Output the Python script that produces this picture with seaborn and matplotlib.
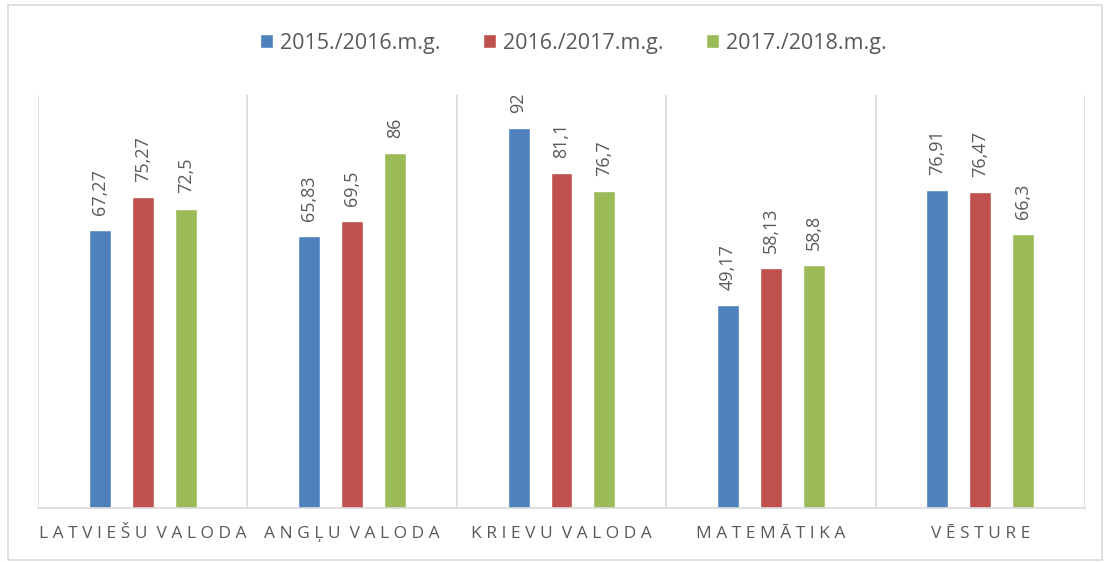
import matplotlib
matplotlib.use("Agg")
import matplotlib.pyplot as plt
import seaborn as sns
import pandas as pd
from matplotlib.patches import Rectangle

categories = ["LATVIEŠU VALODA", "ANGĻU VALODA", "KRIEVU VALODA", "MATEMĀTIKA", "VĒSTURE"]
series_names = ["2015./2016.m.g.", "2016./2017.m.g.", "2017./2018.m.g."]
values_2015 = [67.27, 65.83, 92, 49.17, 76.91]
values_2016 = [75.27, 69.5, 81.1, 58.13, 76.47]
values_2017 = [72.5, 86, 76.7, 58.8, 66.3]
colors = ["#4F81BD", "#C0504D", "#9BBB59"]

rows = []
for name, vals in zip(series_names, [values_2015, values_2016, values_2017]):
    for c, v in zip(categories, vals):
        rows.append({"cat": c, "series": name, "value": v})
df = pd.DataFrame(rows)

sns.set_theme(style="white")
plt.rcParams['font.family'] = ['Open Sans', 'DejaVu Sans']

fig = plt.figure(figsize=(11.1, 5.62), dpi=100)
ax = fig.add_axes([38/1110, (562-508)/562, (1085-38)/1110, (508-95)/562])

sns.barplot(data=df, x="cat", y="value", hue="series", palette=colors,
            order=categories, hue_order=series_names, width=0.615, gap=0.49,
            ax=ax, saturation=1, legend=True, errorbar=None)

ax.set_ylim(0, 100)
ax.set_xlim(-0.5, 4.5)
ax.set_yticks([])
ax.set_ylabel("")
ax.set_xlabel("")

# value labels
for cont in ax.containers:
    labels = [f"{b.get_height():g}".replace(".", ",") for b in cont]
    ax.bar_label(cont, labels=labels, rotation=90, padding=11, fontsize=13, color="#595959")

# gridlines at category boundaries
for xb in [-0.5, 0.5, 1.5, 2.5, 3.5, 4.5]:
    ax.axvline(xb, color="#D9D9D9", lw=1.2, zorder=0)
for s in ["top", "left", "right"]:
    ax.spines[s].set_visible(False)
ax.spines["bottom"].set_color("#D9D9D9")
ax.spines["bottom"].set_linewidth(1.2)

spaced = []
for c in categories:
    spaced.append("  ".join(" ".join(list(w)) for w in c.split(" ")))
ax.set_xticks(range(len(categories)))
ax.set_xticklabels(spaced, fontsize=12.5, color="#595959")
ax.tick_params(axis="x", length=0, pad=13)

leg = ax.legend(loc="center", bbox_to_anchor=(573.5/1110, (562-43)/562), bbox_transform=fig.transFigure,
                ncol=3, frameon=False, fontsize=15.5, handlelength=0.6, handleheight=0.6,
                handletextpad=0.3, columnspacing=2.0)
for t in leg.get_texts():
    t.set_color("#595959")

fig.patches.append(Rectangle((8/1110, 2/562), (1102-8)/1110, (557-2)/562, transform=fig.transFigure,
                             fill=False, edgecolor="#D9D9D9", lw=1.2))

fig.savefig("out.png", dpi=100)
